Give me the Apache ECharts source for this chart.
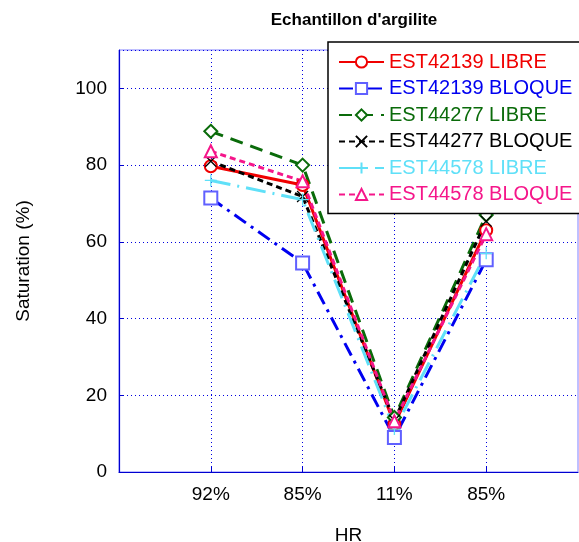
<!DOCTYPE html>
<html><head><meta charset="utf-8">
<script src="https://cdn.jsdelivr.net/npm/echarts@6/dist/echarts.min.js"></script>
<style>html,body{margin:0;padding:0;background:#fff}#c{width:579px;height:542px}</style>
</head><body><div id="c"></div>
<script>
const categories = ['', '92%', '85%', '11%', '85%', ''];
const seriesNames = ['EST42139 LIBRE','EST42139 BLOQUE','EST44277 LIBRE','EST44277 BLOQUE','EST44578 LIBRE','EST44578 BLOQUE'];
const est42139Libre  = [79.7, 74.8, 12.5, 63.0];
const est42139Bloque = [71.4, 54.5, 9.0, 55.3];
const est44277Libre  = [88.8, 80.0, 14.2, 67.0];
const est44277Bloque = [81.0, 71.8, 13.5, 65.4];
const est44578Libre  = [76.0, 71.0, 11.2, 57.0];
const est44578Bloque = [83.6, 75.8, 13.2, 62.0];
const values = [est42139Libre, est42139Bloque, est44277Libre, est44277Bloque, est44578Libre, est44578Bloque];

const colors = ['#f00000','#0000f0','#0a6b0a','#000000','#5fe0f8','#f5168a'];
const symbols = ['emptyCircle','emptyRect','emptyDiamond','path://M0,0L10,10M10,0L0,10','path://M5,0L5,10M0,5L10,5','emptyTriangle'];
const symSizes = [12,13,13,11,12,12];
const dashes = ['solid',[14,6,3,6],[13,8],[6,4],[20,7,2,7],[6,4]];
const symColors = ['#f00000','#6060ff','#0a6b0a','#000000','#5fe0f8','#f5168a'];

const chart = echarts.init(document.getElementById('c'));
const series = seriesNames.map((n,i)=>({
  name:n, type:'line',
  data: values[i].map((v,k)=>[k+1, v]),
  symbol: symbols[i], symbolSize: symSizes[i],
  lineStyle:{color:colors[i], width:3, type:dashes[i]},
  itemStyle:{color: (i===3||i===4)? 'none' : symColors[i], borderColor:symColors[i], borderWidth:1.3},
  emphasis:{disabled:true}, animation:false
}));
chart.setOption({
  animation:false,
  title:{text:"Echantillon d'argilite", left:349, textAlign:'center', top:7,
    textStyle:{fontFamily:'Liberation Sans, Arial', fontSize:17, fontWeight:'bold', color:'#000'}},
  grid:{left:119, right:1, top:50, bottom:70, outerBoundsMode:'none', containLabel:false, show:true, borderColor:'#8080ff', borderWidth:1},
  legend:{orient:'vertical', left:328, top:42, padding:[10,60,9,10], itemGap:6.5,
    itemWidth:45, itemHeight:14, backgroundColor:'#fff', borderColor:'#000', borderWidth:1.5,
    textStyle:{fontFamily:'Liberation Sans, Arial', fontSize:20, padding:[0,0,0,0]},
    data: seriesNames.map((n,i)=>({name:n, textStyle:{color:colors[i]}}))},
  xAxis:{type:'category', data:categories, boundaryGap:false, name:'HR', nameLocation:'middle', nameGap:54,
    nameTextStyle:{fontFamily:'Liberation Sans, Arial', fontSize:19, color:'#000'},
    axisLine:{lineStyle:{color:'#0000d0', width:1.2}},
    axisTick:{inside:true, length:5, interval:(i)=>i>=1&&i<=4, lineStyle:{color:'#0000d0'}},
    axisLabel:{interval:0, margin:13, fontFamily:'Liberation Sans, Arial', fontSize:19, color:'#000'},
    splitLine:{show:true, interval:(i)=>i>=1&&i<=4, lineStyle:{color:'#0000e0', type:[1,3], width:1}}},
  yAxis:{type:'value', min:0, max:110, interval:20, name:'Saturation (%)', nameLocation:'middle', nameGap:86,
    nameTextStyle:{fontFamily:'Liberation Sans, Arial', fontSize:19, color:'#000'},
    axisLine:{show:true, lineStyle:{color:'#0000d0', width:1.2}},
    axisTick:{show:true, inside:true, length:5, lineStyle:{color:'#0000d0'}},
    axisLabel:{showMaxLabel:false, margin:12, fontFamily:'Liberation Sans, Arial', fontSize:19, color:'#000'},
    splitLine:{show:true, lineStyle:{color:'#0000e0', type:[1,3], width:1}}},
  series: series
});
</script></body></html>
